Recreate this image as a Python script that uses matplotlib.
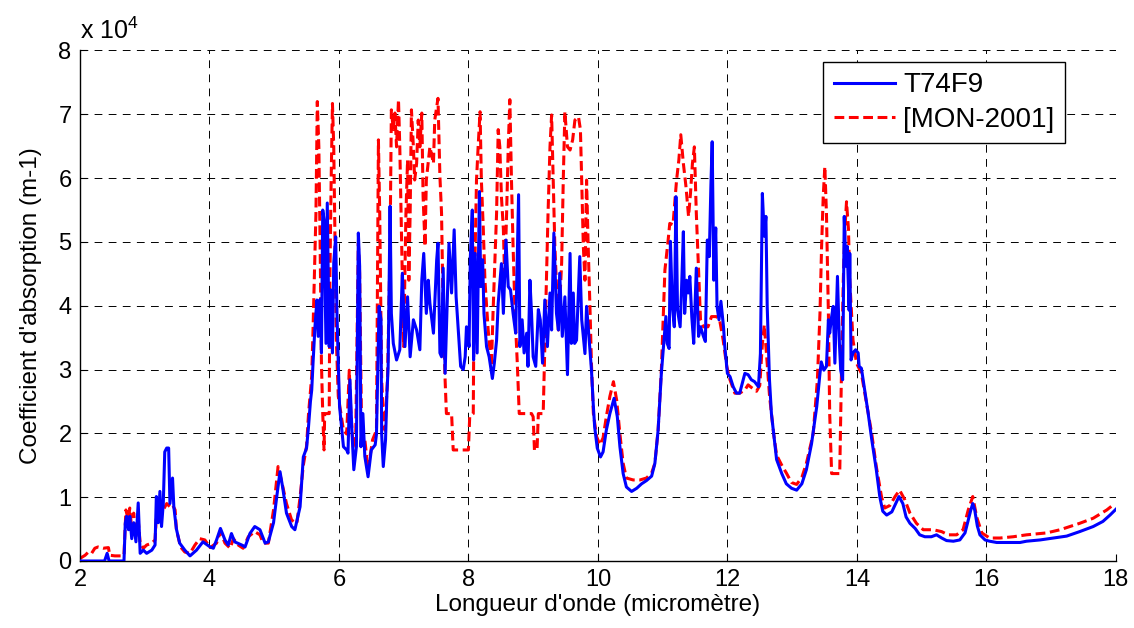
import numpy as np
import matplotlib

matplotlib.use("Agg")
import matplotlib.pyplot as plt
from matplotlib.ticker import FuncFormatter

plt.rcParams["font.family"] = ["Liberation Sans", "DejaVu Sans"]
plt.rcParams["mathtext.fontset"] = "custom"
plt.rcParams["mathtext.rm"] = "Liberation Sans"

# ---------------------------------------------------------------------------
# Data (wavelength in micrometre, absorption in 1e4 m-1)
# ---------------------------------------------------------------------------
LAM_T74F9 = [
    2.0, 2.38, 2.42, 2.45, 2.68, 2.70, 2.72, 2.75, 2.77, 2.80, 2.83, 2.865, 2.90, 2.93,
    2.98, 3.03, 3.11, 3.16, 3.18, 3.21, 3.235, 3.26, 3.287, 3.31, 3.34, 3.37, 3.39, 3.43,
    3.45, 3.49, 3.54, 3.62, 3.70, 3.80, 3.90, 4.01, 4.06, 4.11, 4.17, 4.24, 4.29, 4.34,
    4.39, 4.50, 4.55, 4.625, 4.70, 4.78, 4.86, 4.91, 4.99, 5.04, 5.09, 5.13, 5.19, 5.27,
    5.32, 5.40, 5.45, 5.50, 5.53, 5.56, 5.58, 5.60, 5.63, 5.66, 5.68, 5.71, 5.73, 5.75,
    5.77, 5.80, 5.82, 5.85, 5.87, 5.90, 5.92, 5.95, 5.97, 5.99, 6.01, 6.04, 6.07, 6.12,
    6.14, 6.17, 6.20, 6.23, 6.27, 6.30, 6.32, 6.34, 6.37, 6.40, 6.45, 6.50, 6.56, 6.58,
    6.62, 6.65, 6.66, 6.685, 6.72, 6.74, 6.76, 6.79, 6.81, 6.84, 6.89, 6.94, 6.98, 7.02,
    7.06, 7.10, 7.15, 7.20, 7.25, 7.28, 7.31, 7.35, 7.38, 7.405, 7.46, 7.51, 7.53, 7.56,
    7.585, 7.61, 7.64, 7.66, 7.70, 7.74, 7.78, 7.81, 7.84, 7.88, 7.92, 7.95, 7.97, 8.01,
    8.03, 8.06, 8.08, 8.105, 8.135, 8.17, 8.19, 8.22, 8.24, 8.28, 8.32, 8.37, 8.40, 8.435,
    8.46, 8.51, 8.54, 8.58, 8.615, 8.65, 8.69, 8.73, 8.775, 8.795, 8.83, 8.86, 8.90, 8.92,
    8.95, 8.975, 9.00, 9.04, 9.08, 9.11, 9.145, 9.18, 9.22, 9.26, 9.285, 9.32, 9.36, 9.39,
    9.41, 9.45, 9.49, 9.53, 9.57, 9.59, 9.62, 9.64, 9.67, 9.72, 9.75, 9.80, 9.825, 9.85,
    9.90, 9.93, 9.95, 9.99, 10.04, 10.08, 10.13, 10.185, 10.25, 10.30, 10.34, 10.39, 10.44,
    10.52, 10.60, 10.675, 10.75, 10.83, 10.88, 10.93, 10.98, 11.02, 11.05, 11.07, 11.10,
    11.12, 11.15, 11.18, 11.205, 11.23, 11.27, 11.29, 11.32, 11.34, 11.37, 11.395, 11.42,
    11.45, 11.48, 11.52, 11.555, 11.585, 11.63, 11.66, 11.69, 11.72, 11.745, 11.765, 11.79,
    11.82, 11.84, 11.87, 11.90, 11.94, 11.96, 12.00, 12.04, 12.09, 12.14, 12.19, 12.27,
    12.32, 12.37, 12.42, 12.48, 12.51, 12.54, 12.57, 12.595, 12.615, 12.65, 12.68, 12.72,
    12.76, 12.84, 12.91, 12.99, 13.07, 13.15, 13.22, 13.30, 13.38, 13.43, 13.45, 13.49,
    13.53, 13.56, 13.58, 13.61, 13.635, 13.66, 13.70, 13.73, 13.75, 13.78, 13.805, 13.83,
    13.85, 13.88, 13.89, 13.91, 13.94, 13.98, 14.02, 14.035, 14.07, 14.12, 14.175, 14.23,
    14.30, 14.355, 14.40, 14.46, 14.54, 14.60, 14.65, 14.71, 14.76, 14.82, 14.90, 14.97,
    15.05, 15.15, 15.23, 15.31, 15.385, 15.49, 15.59, 15.67, 15.72, 15.76, 15.79, 15.82,
    15.86, 15.90, 15.98, 16.05, 16.16, 16.31, 16.52, 16.62, 16.83, 17.03, 17.24, 17.44,
    17.65, 17.80, 17.91, 18.0,
]
ALPHA_T74F9 = [
    0.0, 0.0, 0.12, 0.0, 0.0, 0.59, 0.70, 0.49, 0.70, 0.35, 0.60, 0.30, 0.91, 0.12,
    0.17, 0.12, 0.17, 0.25, 1.01, 0.60, 1.09, 0.54, 0.90, 1.71, 1.77, 1.77, 0.90, 1.30,
    0.85, 0.50, 0.28, 0.17, 0.08, 0.17, 0.30, 0.22, 0.20, 0.33, 0.51, 0.33, 0.25, 0.43,
    0.30, 0.25, 0.22, 0.43, 0.54, 0.49, 0.28, 0.30, 0.60, 1.01, 1.40, 1.16, 0.75, 0.54,
    0.49, 0.85, 1.63, 1.77, 2.10, 2.50, 2.68, 3.10, 3.67, 4.09, 3.52, 4.10, 3.26, 5.50,
    5.35, 3.41, 5.61, 3.36, 4.25, 3.26, 4.67, 5.08, 3.88, 3.10, 2.42, 2.10, 1.79, 1.74,
    1.69, 2.84, 2.05, 1.43, 1.79, 5.14, 4.62, 1.79, 2.31, 1.64, 1.32, 1.74, 1.82, 1.99,
    3.99, 3.78, 1.99, 1.48, 1.90, 2.58, 3.05, 5.56, 3.88, 3.41, 3.15, 3.31, 4.51, 3.36,
    4.14, 3.20, 3.78, 3.62, 3.31, 4.40, 4.82, 3.88, 4.40, 4.04, 3.57, 4.72, 4.98, 3.26,
    3.20, 4.59, 2.94, 3.62, 4.98, 4.20, 5.19, 4.14, 3.67, 3.05, 3.00, 3.20, 3.67, 3.36,
    4.77, 5.50, 3.15, 4.82, 3.26, 5.79, 4.30, 4.72, 3.88, 3.36, 3.20, 2.86, 3.10, 3.46,
    4.04, 4.66, 3.88, 5.03, 4.30, 4.25, 3.88, 3.57, 5.74, 3.36, 3.78, 3.26, 3.57, 3.05,
    4.40, 3.88, 3.20, 3.05, 3.94, 3.78, 3.10, 4.09, 3.36, 4.20, 3.62, 5.14, 3.88, 3.62,
    4.51, 3.52, 4.14, 2.92, 4.82, 3.41, 4.20, 3.41, 3.46, 4.77, 3.78, 3.25, 3.99, 3.67,
    3.00, 2.42, 2.10, 1.77, 1.63, 1.71, 2.05, 2.31, 2.55, 2.26, 1.79, 1.37, 1.16,
    1.09, 1.14, 1.21, 1.26, 1.33, 1.53, 2.05, 2.94, 3.46, 3.83, 3.41, 3.33,
    5.01, 3.99, 3.67, 5.71, 3.93, 3.67, 4.20, 5.16, 3.88, 4.40, 4.20, 4.46,
    3.83, 3.41, 4.59, 3.52, 3.67, 3.52, 3.44, 5.03, 4.77, 5.87, 6.57, 4.40,
    5.22, 3.99, 3.78, 4.07, 3.67, 3.36, 2.94, 2.89, 2.73, 2.63, 2.63, 2.94,
    2.92, 2.84, 2.81, 2.73, 3.25, 5.76, 5.09, 5.40, 3.99, 2.84, 2.31, 1.95,
    1.59, 1.37, 1.21, 1.14, 1.11, 1.21, 1.43, 1.84, 2.42, 2.94, 3.12, 2.99,
    3.05, 3.78, 3.57, 3.83, 3.99, 3.10, 4.46, 3.41, 2.99, 2.84, 5.40, 4.62,
    4.93, 3.93, 4.82, 3.15, 3.26, 3.31, 3.26, 3.05, 3.02, 2.68, 2.31, 1.90,
    1.43, 1.00, 0.78, 0.72, 0.77, 0.90, 1.01, 0.90, 0.69, 0.59, 0.51, 0.41,
    0.38, 0.38, 0.41, 0.36, 0.32, 0.31, 0.33, 0.44, 0.64, 0.80, 0.90, 0.80,
    0.55, 0.41, 0.33, 0.31, 0.29, 0.29, 0.29, 0.31, 0.33, 0.36, 0.39, 0.46,
    0.54, 0.62, 0.72, 0.81,
]

LAM_MON = [
    2.0, 2.08, 2.13, 2.18, 2.23, 2.28, 2.36, 2.44, 2.46, 2.54, 2.64, 2.68, 2.71, 2.746,
    2.77, 2.80, 2.83, 2.865, 2.90, 2.93, 2.98, 3.03, 3.11, 3.16, 3.18, 3.235, 3.287, 3.34,
    3.39, 3.43, 3.47, 3.49, 3.54, 3.57, 3.62, 3.70, 3.776, 3.85, 3.93, 4.01, 4.11, 4.17,
    4.24, 4.32, 4.37, 4.445, 4.52, 4.60, 4.70, 4.78, 4.83, 4.91, 4.99, 5.06, 5.11, 5.19,
    5.27, 5.35, 5.40, 5.45, 5.50, 5.53, 5.58, 5.60, 5.645, 5.666, 5.69, 5.71, 5.73, 5.75,
    5.77, 5.78, 5.85, 5.86, 5.88, 5.90, 5.92, 5.94, 5.96, 5.99, 6.03, 6.07, 6.12, 6.16,
    6.185, 6.22, 6.26, 6.30, 6.32, 6.35, 6.40, 6.45, 6.52, 6.58, 6.61, 6.63, 6.66, 6.685,
    6.71, 6.75, 6.79, 6.81, 6.84, 6.865, 6.89, 6.92, 6.94, 6.97, 7.00, 7.035, 7.06, 7.08,
    7.10, 7.12, 7.15, 7.17, 7.20, 7.225, 7.25, 7.28, 7.30, 7.33, 7.35, 7.405, 7.46, 7.48,
    7.53, 7.56, 7.585, 7.61, 7.64, 7.66, 7.74, 7.765, 8.00, 8.02, 8.075, 8.085, 8.125,
    8.15, 8.18, 8.20, 8.23, 8.255, 8.305, 8.355, 8.38, 8.435, 8.46, 8.485, 8.51, 8.54,
    8.56, 8.59, 8.615, 8.64, 8.665, 8.69, 8.72, 8.755, 8.785, 8.975, 9.00, 9.02, 9.06,
    9.08, 9.155, 9.18, 9.23, 9.26, 9.285, 9.31, 9.335, 9.39, 9.44, 9.465, 9.49, 9.53,
    9.57, 9.61, 9.645, 9.70, 9.73, 9.775, 9.80, 9.825, 9.85, 9.88, 9.90, 9.93, 9.98,
    10.03, 10.08, 10.13, 10.185, 10.24, 10.29, 10.34, 10.39, 10.44, 10.545, 10.65, 10.75,
    10.83, 10.88, 10.93, 10.98, 11.035, 11.085, 11.11, 11.16, 11.215, 11.25, 11.28, 11.32,
    11.36, 11.40, 11.43, 11.46, 11.49, 11.52, 11.55, 11.585, 11.63, 11.70, 11.755, 11.83,
    11.88, 11.935, 11.99, 12.04, 12.115, 12.19, 12.27, 12.32, 12.37, 12.45, 12.50, 12.54,
    12.57, 12.60, 12.65, 12.68, 12.72, 12.76, 12.84, 12.91, 12.99, 13.07, 13.15, 13.22,
    13.325, 13.39, 13.43, 13.455, 13.48, 13.505, 13.53, 13.56, 13.58, 13.61, 13.735, 13.76,
    13.79, 13.815, 13.84, 13.87, 13.89, 13.94, 13.995, 14.07, 14.15, 14.23, 14.30, 14.38,
    14.43, 14.51, 14.59, 14.66, 14.74, 14.82, 14.92, 15.025, 15.18, 15.31, 15.41, 15.54,
    15.64, 15.72, 15.79, 15.85, 15.93, 16.05, 16.21, 16.415, 16.62, 16.93, 17.14, 17.44,
    17.65, 17.86, 17.985,
]
ALPHA_MON = [
    0.04, 0.09, 0.14, 0.12, 0.20, 0.22, 0.20, 0.21, 0.09, 0.08, 0.08, 0.09, 0.80, 0.64,
    0.83, 0.49, 0.75, 0.38, 0.64, 0.28, 0.20, 0.25, 0.28, 0.33, 0.70, 0.85, 0.80, 0.90,
    0.85, 0.88, 0.80, 0.49, 0.28, 0.20, 0.14, 0.12, 0.25, 0.35, 0.33, 0.21, 0.28, 0.46,
    0.28, 0.20, 0.35, 0.25, 0.20, 0.38, 0.46, 0.41, 0.28, 0.28, 0.80, 1.48, 1.27, 0.90,
    0.64, 0.59, 1.00, 1.50, 1.80, 2.30, 2.90, 3.62, 5.45, 7.20, 6.49, 4.93, 3.10, 2.31,
    1.74, 2.31, 2.31, 4.40, 5.97, 7.17, 6.49, 4.93, 3.46, 2.58, 2.31, 2.05, 1.99, 2.99,
    2.31, 1.79, 1.99, 4.98, 4.51, 2.05, 1.90, 1.43, 1.90, 2.05, 6.60, 5.45, 2.84, 2.31,
    2.05, 2.84, 4.93, 7.07, 6.76, 7.02, 6.49, 7.23, 6.49, 4.93, 3.36, 5.45, 6.28, 4.40,
    5.45, 7.07, 6.49, 5.97, 6.23, 6.91, 6.49, 7.02, 5.71, 4.93, 5.97, 6.49, 6.23, 6.91,
    7.25, 6.02, 5.45, 3.88, 2.84, 2.31, 2.31, 1.74, 1.74, 2.26, 2.31, 3.88, 5.97,
    6.49, 7.04, 5.97, 5.20, 4.40, 3.62, 3.05, 3.88, 5.45, 6.76, 6.49, 5.71, 5.20,
    4.40, 5.45, 6.49, 7.23, 5.97, 4.93, 3.88, 3.10, 2.31, 2.31, 2.26, 1.74, 1.74,
    2.31, 2.31, 3.36, 5.45, 6.49, 6.99, 5.97, 4.93, 3.62, 4.67, 5.97, 7.04, 6.49,
    6.44, 6.60, 6.91, 6.96, 6.76, 4.93, 4.40, 5.97, 4.93, 3.88, 3.10, 2.31, 1.95,
    1.82, 1.93, 2.26, 2.58, 2.81, 2.52, 1.99, 1.53, 1.30, 1.27, 1.27, 1.30,
    1.38, 1.53, 2.05, 2.99, 4.56, 5.03, 5.29, 5.27, 5.97, 6.28, 6.68, 6.23,
    5.87, 5.40, 5.76, 6.23, 6.49, 5.45, 4.67, 3.78, 3.67, 3.67, 3.83, 3.83,
    3.78, 3.46, 3.05, 2.84, 2.63, 2.63, 2.68, 2.76, 2.72, 2.66, 2.75, 3.40,
    3.70, 3.30, 2.60, 2.31, 1.95, 1.66, 1.50, 1.38, 1.23, 1.20, 1.31, 1.53,
    1.99, 2.84, 3.88, 4.93, 5.71, 6.18, 5.45, 3.88, 2.31, 1.37, 1.37, 2.84,
    4.40, 5.20, 5.63, 5.20, 4.40, 3.46, 3.10, 2.94, 2.47, 1.99, 1.48, 1.01,
    0.83, 0.87, 1.01, 1.11, 0.96, 0.75, 0.59, 0.49, 0.49, 0.46, 0.41, 0.41,
    0.49, 0.80, 1.01, 0.69, 0.44, 0.36, 0.36, 0.38, 0.41, 0.44, 0.49, 0.59,
    0.67, 0.80, 0.90,
]

SCALE = 1e4
X_TICKS = [2, 4, 6, 8, 10, 12, 14, 16, 18]
Y_TICKS = [0, 1, 2, 3, 4, 5, 6, 7, 8]

# ---------------------------------------------------------------------------
# Figure
# ---------------------------------------------------------------------------
fig = plt.figure(figsize=(11.34, 6.28), dpi=100)
ax = fig.add_axes([0.0705, 0.1067, 0.9135, 0.8129])

ax.plot(LAM_T74F9, np.array(ALPHA_T74F9) * SCALE, color="#0000ff", lw=2.2,
        label="T74F9", zorder=3)
ax.plot(LAM_MON, np.array(ALPHA_MON) * SCALE, color="#ff0000", lw=2.2,
        linestyle=(0, (3.2, 1.5)), label="[MON-2001]", zorder=2)

ax.set_xlim(2, 18)
ax.set_ylim(0, 8 * SCALE)
ax.set_xticks(X_TICKS)
ax.set_yticks([v * SCALE for v in Y_TICKS])
ax.yaxis.set_major_formatter(FuncFormatter(lambda v, _: f"{v / SCALE:g}"))
ax.tick_params(direction="in", length=5, labelsize=17, pad=6)

ax.grid(True, color="black", linewidth=0.7, linestyle=(0, (8, 6.5)))
ax.set_axisbelow(True)
for side in ("top", "right"):
    ax.spines[side].set_visible(False)
for side in ("left", "bottom"):
    ax.spines[side].set_linewidth(1.0)

ax.set_xlabel("Longueur d'onde (micromètre)", fontsize=17.5, labelpad=2)
ax.set_ylabel("Coefficient d'absorption (m-1)", fontsize=17.5, labelpad=12)
ax.text(0.0, 1.013, "x 10$^{4}$", transform=ax.transAxes, ha="left",
        va="bottom", fontsize=18)

leg = ax.legend(loc="upper right", bbox_to_anchor=(0.951, 0.978), fontsize=20,
                frameon=True, fancybox=False, framealpha=1, edgecolor="black",
                handlelength=2.2, handletextpad=0.3, borderpad=0.38,
                labelspacing=0.3, borderaxespad=0.0)
leg.get_frame().set_linewidth(1.0)

fig.savefig("out.png", dpi=100)
